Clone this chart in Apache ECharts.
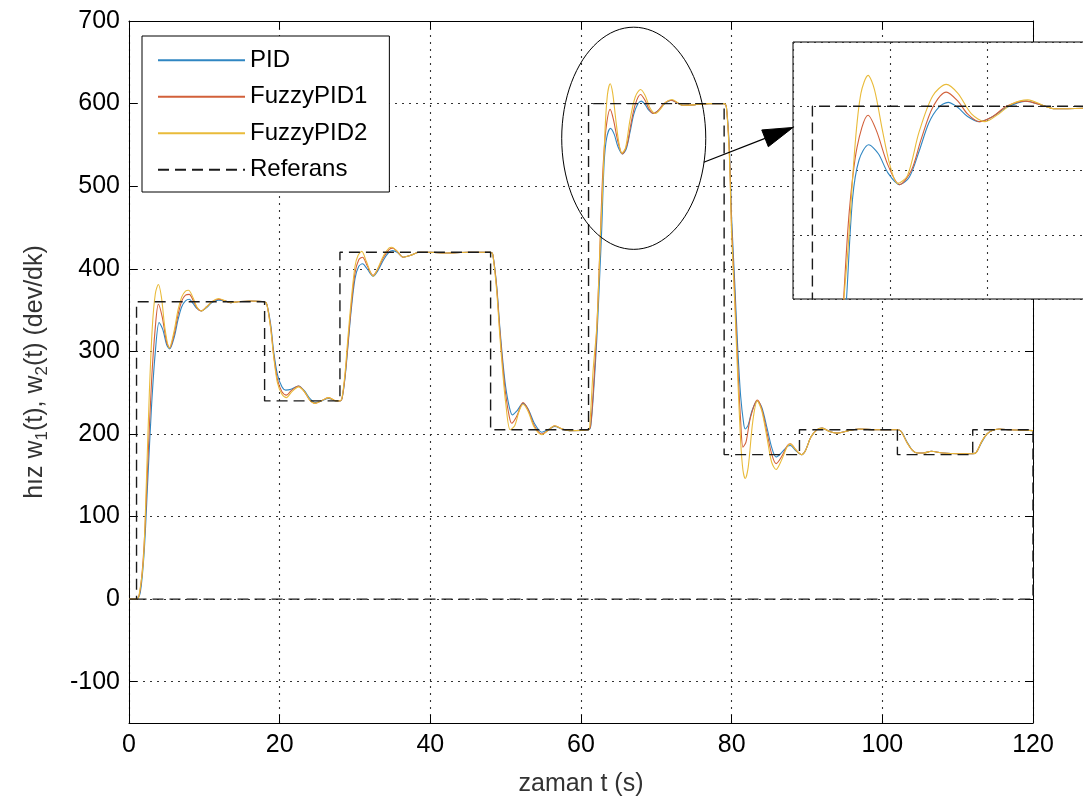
<!DOCTYPE html>
<html>
<head>
<meta charset="utf-8">
<script src="https://cdn.jsdelivr.net/npm/echarts@6/dist/echarts.min.js"></script>
<style>
  html, body { margin: 0; padding: 0; background: #fff; }
  #chart { width: 1083px; height: 808px; }
</style>
</head>
<body>
<div id="chart"></div>
<script>
// Axis ticks
const xTicks = [0, 20, 40, 60, 80, 100, 120];
const yTicks = [-100, 0, 100, 200, 300, 400, 500, 600, 700];

// Reference speed profile (rpm) - closed back to zero along the time axis
const referans = [
  [0, 0], [1, 0], [1, 360], [18, 360], [18, 240], [28, 240], [28, 420], [48, 420],
  [48, 205], [61, 205], [61, 600], [79, 600], [79, 175], [89, 175], [89, 205],
  [102, 205], [102, 175], [112, 175], [112, 205], [120, 205], [120, 0], [1, 0]
];

// PID controller response
const pid = [
  [0, 0], [1, 0], [1.5, 8], [2, 55], [2.5, 145], [3, 235], [3.5, 300], [4, 335], [4.5, 326], [5, 308],
  [5.4, 303], [6, 317], [6.5, 338], [7, 354], [7.5, 361], [8, 363], [8.5, 358], [9, 352], [9.6, 349],
  [10.3, 353], [11, 359], [11.9, 362], [12.8, 361], [13.5, 359], [14.5, 360], [16, 361], [18, 360],
  [18.3, 357], [18.8, 333], [19.2, 300], [19.7, 272], [20.3, 257], [20.8, 253], [21.5, 254], [22.5, 258],
  [23.3, 252], [24, 243], [24.7, 238], [25.5, 240], [26.5, 243], [27.5, 240], [28, 240],
  [28.3, 244], [28.7, 270], [29, 300], [29.5, 350], [30, 388], [30.5, 403], [31, 406], [31.6, 400],
  [32.4, 391], [33, 397], [33.8, 411], [34.5, 420], [35, 422], [35.6, 420], [36.4, 414], [37.3, 416],
  [38.5, 420], [40, 420], [42, 419], [45, 420], [48, 420],
  [48.3, 417], [48.8, 380], [49.2, 332], [49.6, 290], [50, 257], [50.5, 232], [50.9, 223], [51.5, 228],
  [52.3, 237], [53, 230], [53.8, 213], [54.8, 202], [55.6, 205], [56.5, 209], [57.5, 206], [58.5, 204], [61, 205],
  [61.3, 210], [61.7, 255], [62.1, 315], [62.5, 395], [62.75, 448], [63.07, 528], [63.4, 558], [63.9, 570],
  [64.4, 563], [64.9, 548], [65.5, 539], [66, 545], [66.5, 565], [67, 587], [67.5, 599], [68, 603],
  [68.5, 599], [69, 592], [69.6, 588], [70.3, 592], [71, 599], [72, 604], [72.8, 601], [73.5, 598],
  [75, 598.5], [77, 600], [79, 600],
  [79.3, 596], [79.7, 545], [80, 460], [80.4, 385], [80.8, 305], [81.2, 245], [81.6, 212], [81.8, 206],
  [82.2, 211], [82.7, 228], [83.4, 240], [84, 232], [84.7, 207], [85.3, 184], [85.9, 172], [86.6, 177],
  [87.4, 185], [87.8, 186], [88.5, 180], [89.3, 175], [89.8, 180], [90.5, 196], [91.3, 205], [92, 207],
  [93, 203], [94, 201], [95.5, 204], [97, 206], [99, 205], [102, 205],
  [102.5, 203], [103.3, 190], [104, 180], [104.6, 177], [105.5, 177], [106.5, 179], [108, 177], [110, 176],
  [112, 176], [112.5, 178], [113.2, 190], [113.9, 200], [114.5, 204], [115.5, 206], [117, 205], [120, 204]
];

// Fuzzy PID (variant 1) response
const fuzzy1 = [
  [0, 0], [1, 0], [1.5, 12], [2, 65], [2.5, 165], [3, 265], [3.5, 330], [3.9, 357], [4.4, 342], [5, 311],
  [5.4, 304], [6, 321], [6.5, 344], [7, 361], [7.5, 368], [8, 369], [8.5, 362], [9, 353], [9.6, 349],
  [10.3, 354], [11, 360], [11.9, 363], [12.8, 361], [13.5, 359], [14.5, 360], [16, 361], [18, 360],
  [18.3, 357], [18.8, 330], [19.2, 296], [19.7, 266], [20.3, 251], [20.9, 247], [21.6, 253], [22.5, 258],
  [23.3, 251], [24, 241], [24.7, 237], [25.5, 240], [26.5, 244], [27.5, 240], [28, 240],
  [28.3, 244], [28.7, 272], [29, 303], [29.5, 355], [30, 395], [30.5, 411], [31, 414], [31.6, 404],
  [32.4, 392], [33, 399], [33.8, 414], [34.5, 423], [35, 425], [35.6, 421], [36.4, 414], [37.3, 416],
  [38.5, 420], [40, 420], [42, 419], [45, 420], [48, 420],
  [48.3, 417], [48.8, 378], [49.2, 328], [49.6, 284], [50, 248], [50.5, 220], [50.8, 213], [51.5, 222],
  [52.3, 238], [53, 229], [53.8, 210], [54.8, 200], [55.6, 204], [56.5, 210], [57.5, 206], [58.5, 204], [61, 205],
  [61.3, 212], [61.7, 262], [62.1, 328], [62.4, 398], [62.6, 448], [62.9, 518], [63.3, 568], [63.87, 593],
  [64.3, 581], [64.9, 554], [65.5, 539], [66.1, 550], [66.6, 574], [67.2, 599], [67.9, 611], [68.5, 604],
  [69, 594], [69.6, 588], [70.3, 592], [71, 600], [72, 604], [72.8, 601], [73.5, 598], [75, 598.5],
  [77, 600], [79, 600],
  [79.3, 596], [79.7, 540], [80, 450], [80.4, 372], [80.8, 285], [81.2, 215], [81.5, 184], [81.9, 190],
  [82.5, 220], [83.4, 241], [84, 230], [84.7, 201], [85.3, 176], [85.9, 164], [86.6, 172], [87.4, 186],
  [87.8, 188], [88.5, 181], [89.3, 175], [89.8, 180], [90.5, 196], [91.3, 205], [92, 207], [93, 203],
  [94, 201], [95.5, 204], [97, 206], [99, 205], [102, 205],
  [102.5, 203], [103.3, 189], [104, 180], [104.6, 177], [105.5, 177], [106.5, 179], [108, 177], [110, 176],
  [112, 176], [112.5, 178], [113.2, 191], [113.9, 200], [114.5, 204], [115.5, 206], [117, 205], [120, 204]
];

// Fuzzy PID (variant 2) response
const fuzzy2 = [
  [0, 0], [1, 0], [1.3, 3], [1.9, 46], [2.3, 140], [2.7, 250], [3.1, 330], [3.5, 370], [3.9, 381],
  [4.3, 366], [4.8, 326], [5.35, 304], [6, 325], [6.5, 350], [7, 366], [7.5, 373], [7.9, 374], [8.5, 365],
  [9, 354], [9.65, 349], [10.3, 354], [11, 360], [11.9, 364], [12.8, 361], [13.5, 359], [14.5, 360], [16, 361], [18, 360],
  [18.3, 357], [18.8, 328], [19.2, 294], [19.7, 262], [20.3, 248], [20.9, 244], [21.6, 251], [22.5, 257],
  [23.3, 251], [24, 241], [24.7, 237], [25.5, 240], [26.5, 244], [27.5, 240], [28, 240],
  [28.3, 245], [28.7, 276], [29, 310], [29.5, 362], [30, 403], [30.4, 416], [30.9, 421], [31.5, 409],
  [32.4, 391], [33, 400], [33.8, 416], [34.5, 425], [34.9, 426], [35.6, 421], [36.4, 414], [37.3, 416],
  [38.5, 420], [40, 420], [42, 419], [45, 420], [48, 420],
  [48.3, 416], [48.8, 374], [49.2, 322], [49.6, 276], [50, 238], [50.6, 205], [51.2, 210], [51.8, 228],
  [52.3, 236], [53, 227], [53.8, 208], [54.8, 199], [55.6, 204], [56.5, 210], [57.5, 206], [58.5, 204], [61, 205],
  [61.2, 215], [61.6, 276], [62.1, 330], [62.4, 395], [62.6, 445], [62.84, 490], [63.2, 570], [63.5, 610],
  [63.87, 624], [64.2, 613], [64.6, 582], [65, 554], [65.4, 540], [65.9, 546], [66.5, 580], [67.2, 608],
  [67.9, 617], [68.5, 610], [69.2, 594], [69.9, 588], [70.6, 594], [71.3, 602], [72.1, 605], [73, 600],
  [73.5, 598], [75, 598.5], [77, 600], [79, 600],
  [79.3, 596], [79.7, 535], [80, 440], [80.4, 360], [80.8, 270], [81.2, 190], [81.5, 156], [81.8, 146],
  [82.2, 160], [82.8, 215], [83.4, 240], [84, 228], [84.7, 195], [85.3, 166], [85.9, 157], [86.6, 168],
  [87.4, 185], [87.8, 188], [88.5, 181], [89.3, 175], [89.8, 180], [90.5, 196], [91.3, 205], [92, 207],
  [93, 203], [94, 201], [95.5, 204], [97, 206], [99, 205], [102, 205],
  [102.5, 203], [103.3, 189], [104, 180], [104.6, 177], [105.5, 177], [106.5, 179], [108, 177], [110, 176],
  [112, 176], [112.5, 178], [113.2, 191], [113.9, 200], [114.5, 204], [115.5, 206], [117, 205], [120, 204]
];

const FONT = "'Liberation Sans', Arial, sans-serif";
const COLORS = { pid: '#2f86c2', f1: '#d2603a', f2: '#e9bb3a', ref: '#1a1a1a' };
const dotted = { type: [2, 5], color: '#333', width: 1.1 };
const refStyle = { color: COLORS.ref, width: 1.4, type: [11, 6] };

const chart = echarts.init(document.getElementById('chart'), null, { renderer: 'canvas' });

function lineSeries(name, data, color, axisIdx, z, extra) {
  return Object.assign({
    name: name,
    type: 'line',
    data: data,
    xAxisIndex: axisIdx,
    yAxisIndex: axisIdx,
    symbol: 'none',
    showSymbol: false,
    smooth: 0.3,
    z: z,
    lineStyle: { color: color, width: 1.1 },
    itemStyle: { color: color },
    emphasis: { disabled: true },
    animation: false
  }, extra || {});
}

const option = {
  backgroundColor: '#fff',
  animation: false,
  textStyle: { fontFamily: FONT },
  grid: [
    { left: 129, top: 21, width: 904, height: 702, outerBoundsMode: 'none', containLabel: false },
    { left: 793, top: 42, width: 291, height: 257, outerBoundsMode: 'none', containLabel: false }
  ],
  legend: {
    left: 142, top: 36, orient: 'vertical',
    data: ['PID', 'FuzzyPID1', 'FuzzyPID2', 'Referans'],
    backgroundColor: '#fff', borderColor: '#000', borderWidth: 1, borderRadius: 0,
    padding: [12, 22, 10, 15],
    itemGap: 12, itemWidth: 87, itemHeight: 14,
    // line-only keys: hide the marker drawn in the middle of each key
    itemStyle: { opacity: 0, borderWidth: 0 },
    textStyle: { fontSize: 24, fontFamily: FONT, color: '#000', lineHeight: 24.5 },
    selectedMode: false,
    z: 5
  },
  xAxis: [
    {
      type: 'value', gridIndex: 0, position: 'bottom', min: 0, max: 120, interval: 20,
      axisLine: { show: true, onZero: false, lineStyle: { color: '#000', width: 1 } },
      axisTick: { show: true, inside: true, length: 8, lineStyle: { color: '#000' } },
      axisLabel: { show: true, margin: 10, fontSize: 25, color: '#000', fontFamily: FONT,
        formatter: v => xTicks.includes(v) ? String(v) : '' },
      splitLine: { show: true, lineStyle: dotted },
      name: 'zaman t (s)', nameLocation: 'middle', nameGap: 49,
      nameTextStyle: { fontSize: 25, color: '#333', fontFamily: FONT }
    },
    {
      type: 'value', gridIndex: 0, position: 'top', min: 0, max: 120, interval: 20,
      axisLine: { show: true, onZero: false, lineStyle: { color: '#000', width: 1 } },
      axisTick: { show: true, inside: true, length: 8, lineStyle: { color: '#000' } },
      axisLabel: { show: false }, splitLine: { show: false }
    },
    {
      type: 'value', gridIndex: 1, min: 60, max: 75, interval: 5, z: 11,
      axisLine: { show: false }, axisTick: { show: false }, axisLabel: { show: false },
      splitLine: { show: true, lineStyle: dotted }
    }
  ],
  yAxis: [
    {
      type: 'value', gridIndex: 0, position: 'left', min: -150, max: 700,
      axisLine: { show: true, onZero: false, lineStyle: { color: '#000', width: 1 } },
      axisTick: { show: true, inside: true, length: 8, customValues: yTicks, lineStyle: { color: '#000' } },
      axisLabel: { show: true, margin: 9, fontSize: 25, color: '#000', fontFamily: FONT, customValues: yTicks },
      splitLine: { show: true, lineStyle: dotted },
      name: 'hız w{s|1}(t), w{s|2}(t) (dev/dk)', nameLocation: 'middle', nameGap: 78,
      nameTextStyle: {
        fontSize: 25, color: '#333', fontFamily: FONT, lineHeight: 32,
        rich: { s: { fontSize: 17, color: '#333', fontFamily: FONT, lineHeight: 17, verticalAlign: 'bottom' } }
      }
    },
    {
      type: 'value', gridIndex: 0, position: 'right', min: -150, max: 700,
      axisLine: { show: true, onZero: false, lineStyle: { color: '#000', width: 1 } },
      axisTick: { show: true, inside: true, length: 8, customValues: yTicks, lineStyle: { color: '#000' } },
      axisLabel: { show: false }, splitLine: { show: false }
    },
    {
      type: 'value', gridIndex: 1, min: 450, max: 650, interval: 50, z: 11,
      axisLine: { show: false }, axisTick: { show: false }, axisLabel: { show: false },
      splitLine: { show: true, lineStyle: dotted }
    }
  ],
  series: [
    lineSeries('PID', pid, COLORS.pid, 0, 2),
    lineSeries('FuzzyPID1', fuzzy1, COLORS.f1, 0, 2),
    lineSeries('FuzzyPID2', fuzzy2, COLORS.f2, 0, 2),
    lineSeries('Referans', referans, COLORS.ref, 0, 3, { smooth: false, lineStyle: refStyle }),
    // zoomed inset around the 600 rpm step
    lineSeries('PID', pid, COLORS.pid, 2, 12),
    lineSeries('FuzzyPID1', fuzzy1, COLORS.f1, 2, 12),
    lineSeries('FuzzyPID2', fuzzy2, COLORS.f2, 2, 12),
    lineSeries('Referans', referans, COLORS.ref, 2, 13, { smooth: false, lineStyle: refStyle })
  ]
};

chart.setOption(option);

// Annotation: ellipse around the 600 rpm overshoot, arrow to the inset, inset frame
function mainPx(t, v) { return chart.convertToPixel({ xAxisIndex: 0, yAxisIndex: 0 }, [t, v]); }
function insetPx(t, v) { return chart.convertToPixel({ xAxisIndex: 2, yAxisIndex: 2 }, [t, v]); }

const ellipseCenter = [67, 558];
const ellipseRadius = [9.56, 134.5];
const ellipsePts = [];
for (let k = 0; k <= 96; k++) {
  const a = (k / 96) * Math.PI * 2;
  ellipsePts.push(mainPx(ellipseCenter[0] + ellipseRadius[0] * Math.cos(a),
                         ellipseCenter[1] + ellipseRadius[1] * Math.sin(a)));
}

const insetTL = insetPx(60, 650);
const insetBR = insetPx(75, 450);

const arrowStart = mainPx(76.3, 529);
const arrowTip = insetPx(60, 583.5);
const dx = arrowTip[0] - arrowStart[0], dy = arrowTip[1] - arrowStart[1];
const len = Math.sqrt(dx * dx + dy * dy);
const ux = dx / len, uy = dy / len;
const headLen = 30, headHalf = 9;
const base = [arrowTip[0] - ux * headLen, arrowTip[1] - uy * headLen];
const head = [
  arrowTip,
  [base[0] - uy * headHalf, base[1] + ux * headHalf],
  [base[0] + uy * headHalf, base[1] - ux * headHalf]
];

chart.setOption({
  graphic: [
    {
      type: 'polyline', z: 4, silent: true,
      shape: { points: ellipsePts },
      style: { stroke: '#000', lineWidth: 1, fill: null }
    },
    {
      type: 'rect', z: 10, silent: true,
      shape: { x: insetTL[0], y: insetTL[1], width: insetBR[0] - insetTL[0], height: insetBR[1] - insetTL[1] },
      style: { fill: '#fff', stroke: '#000', lineWidth: 1 }
    },
    {
      type: 'line', z: 20, silent: true,
      shape: { x1: arrowStart[0], y1: arrowStart[1], x2: base[0], y2: base[1] },
      style: { stroke: '#000', lineWidth: 1.2 }
    },
    {
      type: 'polygon', z: 20, silent: true,
      shape: { points: head },
      style: { fill: '#000', stroke: '#000', lineWidth: 1 }
    }
  ]
});
</script>
</body>
</html>
